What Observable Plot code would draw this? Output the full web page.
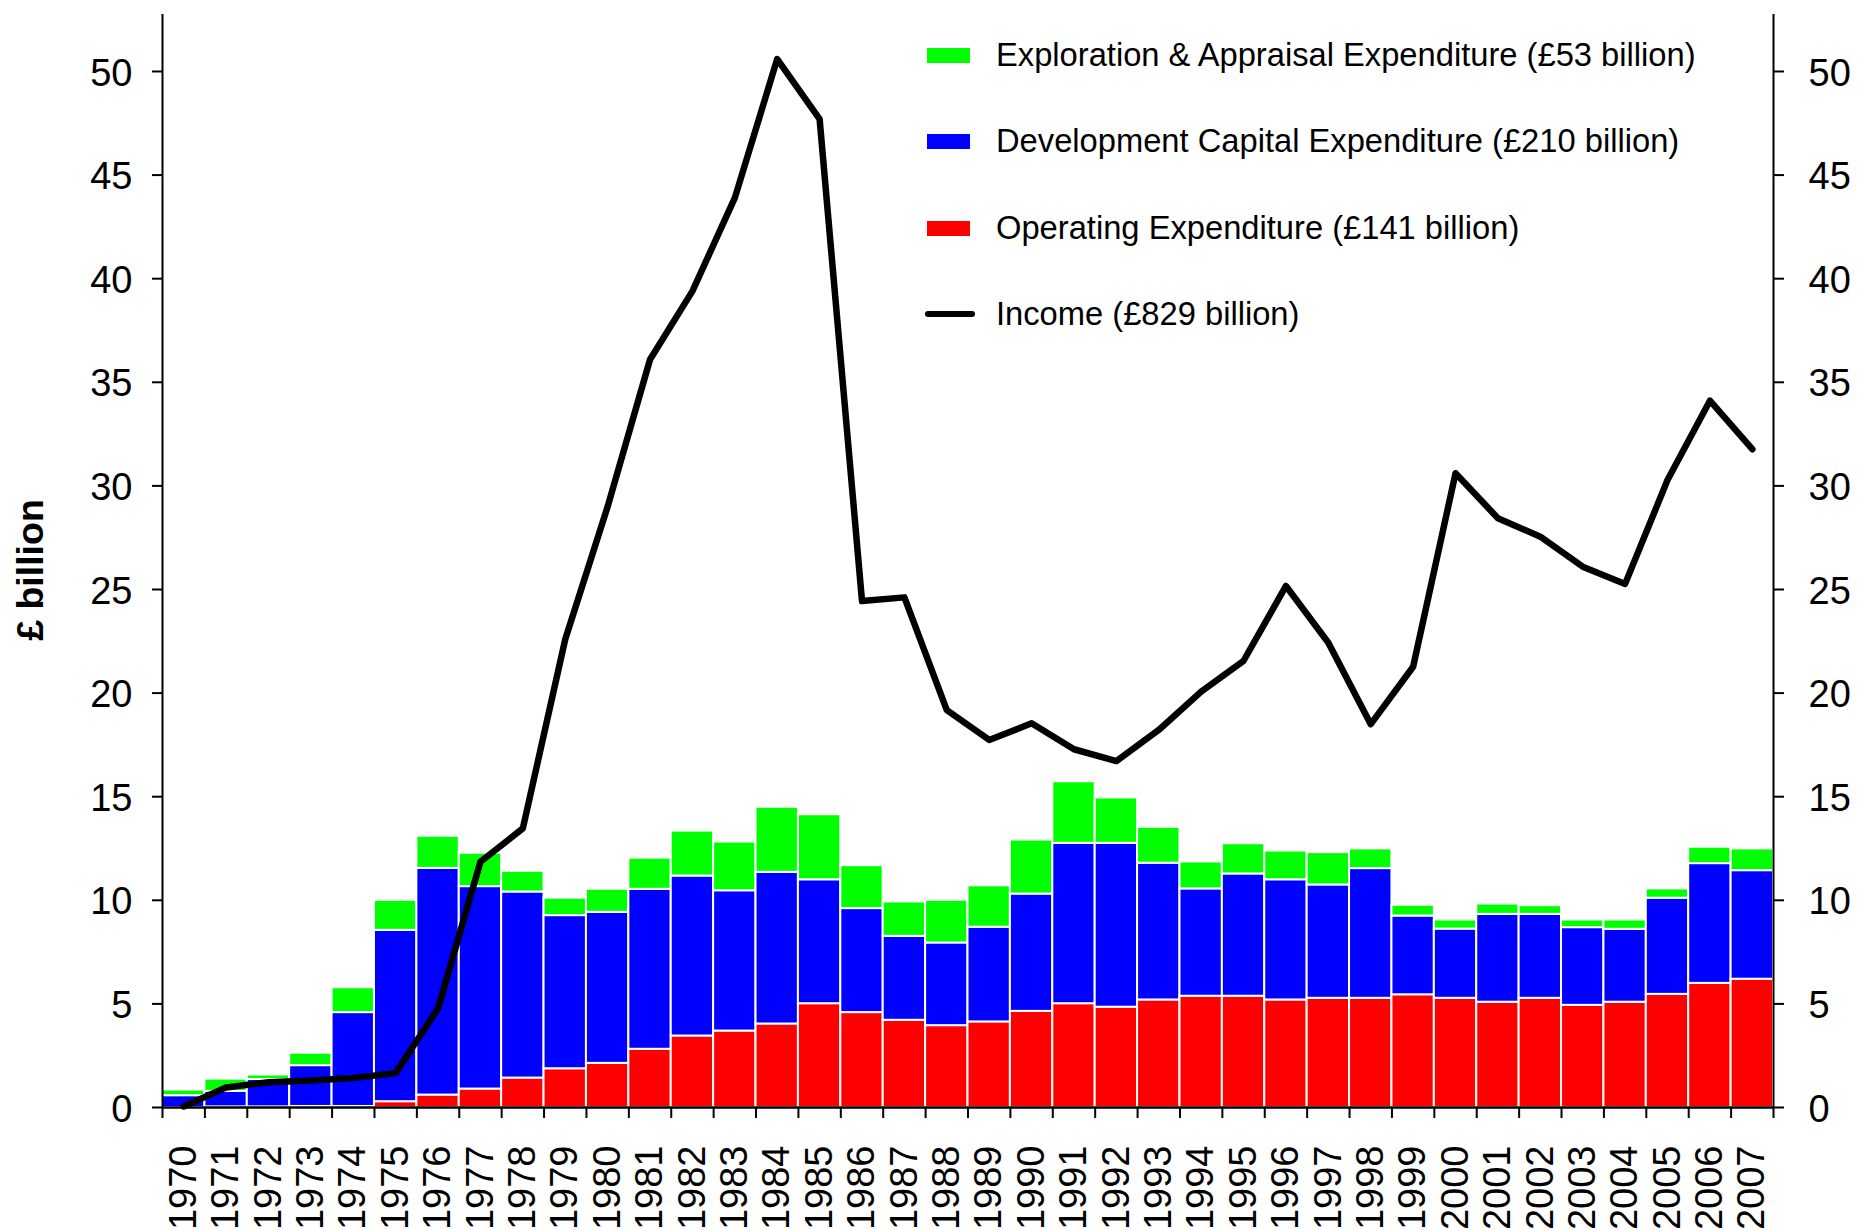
<!DOCTYPE html>
<html>
<head>
<meta charset="utf-8">
<script src="https://cdn.jsdelivr.net/npm/d3@7"></script>
<script src="https://cdn.jsdelivr.net/npm/@observablehq/plot@0.6"></script>
<style>
  body { margin: 0; background: #fff; }
  #wrap { position: relative; width: 1860px; height: 1230px; font-family: "Liberation Sans", Arial, sans-serif; }
  #wrap svg { position: absolute; left: 0; top: 0; }
  .leg { position: absolute; left: 0; height: 32px; width: 900px; }
  .sw { position: absolute; left: 927px; top: 9px; width: 43px; height: 15px; }
  .ln { position: absolute; left: 925px; top: 13px; width: 50px; height: 6px; background: #000; border-radius: 3px; }
  .lt { position: absolute; left: 996px; top: 0; font-size: 32.7px; line-height: 32px; white-space: nowrap; color: #000; }
</style>
</head>
<body>
<div id="wrap"></div>
<script>
const years = [1970,1971,1972,1973,1974,1975,1976,1977,1978,1979,1980,1981,1982,1983,1984,1985,1986,1987,1988,1989,
               1990,1991,1992,1993,1994,1995,1996,1997,1998,1999,2000,2001,2002,2003,2004,2005,2006,2007];

// Operating expenditure (£ billion)
const operating = [0,0.03,0.03,0.05,0.05,0.28,0.60,0.89,1.42,1.87,2.13,2.81,3.45,3.69,4.03,5.01,4.58,4.21,3.95,4.13,
                   4.64,5.01,4.84,5.19,5.37,5.37,5.19,5.27,5.27,5.44,5.27,5.08,5.27,4.93,5.08,5.46,5.99,6.19];
// Development capital expenditure (£ billion)
const development = [0.57,0.75,1.32,1.97,4.53,8.27,10.94,9.77,8.98,7.39,7.29,7.72,7.72,6.77,7.32,5.98,5.02,4.05,3.99,4.57,
                     5.66,7.74,7.91,6.60,5.18,5.90,5.80,5.47,6.26,3.80,3.34,4.24,4.05,3.75,3.52,4.64,5.78,5.24];
// Exploration & appraisal expenditure (£ billion)
const exploration = [0.27,0.59,0.22,0.60,1.20,1.45,1.55,1.61,1.00,0.84,1.11,1.50,2.17,2.35,3.14,3.14,2.07,1.66,2.06,2.00,
                     2.61,2.97,2.19,1.73,1.30,1.46,1.39,1.56,0.95,0.52,0.44,0.50,0.42,0.37,0.45,0.45,0.79,1.05];
// Income (£ billion)
const income = [0.05,0.97,1.22,1.30,1.42,1.66,4.79,11.86,13.47,22.6,29.0,36.1,39.4,43.9,50.6,47.7,24.44,24.62,19.18,17.74,
                18.54,17.29,16.72,18.22,20.07,21.56,25.17,22.43,18.5,21.27,30.61,28.44,27.55,26.1,25.27,30.28,34.11,31.77];

const seriesNames = ["Operating Expenditure", "Development Capital Expenditure", "Exploration & Appraisal Expenditure"];
const seriesColors = ["#ff0000", "#0000ff", "#00ff00"];
const legendLabels = [
  "Exploration & Appraisal Expenditure (£53 billion)",
  "Development Capital Expenditure (£210 billion)",
  "Operating Expenditure (£141 billion)",
  "Income (£829 billion)"
];
const legendColors = ["#00ff00", "#0000ff", "#ff0000", "#000000"];
const yTicks = [0,5,10,15,20,25,30,35,40,45,50];
const yTitle = "£ billion";

const seriesValues = [operating, development, exploration];
const rows = [];
years.forEach((yr, i) => {
  seriesNames.forEach((s, k) => rows.push({x1: yr - 0.5, x2: yr + 0.5, series: s, value: seriesValues[k][i]}));
});
const incomeRows = years.map((yr, i) => ({year: yr, income: income[i]}));
const boundaries = years.map(y => y - 0.5).concat([years[years.length - 1] + 0.5]);
const blank = () => "";

const chart = Plot.plot({
  width: 1860,
  height: 1230,
  marginLeft: 162,
  marginRight: 87,
  marginTop: 14,
  marginBottom: 123,
  style: {fontFamily: "'Liberation Sans', Arial, sans-serif", fontSize: "38px", color: "#000", background: "#fff"},
  x: {type: "linear", domain: [boundaries[0], boundaries[boundaries.length - 1]]},
  y: {domain: [0, 52.75]},
  color: {domain: seriesNames, range: seriesColors},
  marks: [
    Plot.rectY(rows, {x1: "x1", x2: "x2", y: "value", fill: "series", order: seriesNames, stroke: "white", strokeWidth: 2}),
    Plot.ruleX([boundaries[0]], {stroke: "#000", strokeWidth: 2}),
    Plot.ruleX([boundaries[boundaries.length - 1]], {stroke: "#000", strokeWidth: 2}),
    Plot.ruleY([0], {stroke: "#000", strokeWidth: 2.5}),
    Plot.line(incomeRows, {x: "year", y: "income", stroke: "#000", strokeWidth: 6.5, strokeLinejoin: "round", strokeLinecap: "round"}),
    // y tick marks (both sides)
    Plot.axisY({anchor: "left", ticks: yTicks, tickSize: 10, tickFormat: blank, strokeWidth: 2, label: null}),
    Plot.axisY({anchor: "right", ticks: yTicks, tickSize: 10, tickFormat: blank, strokeWidth: 2, label: null}),
    // y tick labels (both sides)
    Plot.axisY({anchor: "left", ticks: yTicks, tickSize: 0, tickPadding: 30, fontSize: 38, label: null, dy: 2}),
    Plot.axisY({anchor: "right", ticks: yTicks, tickSize: 0, tickPadding: 35, fontSize: 38, label: null, dy: 2}),
    // x tick marks at year boundaries, labels at year centres
    Plot.axisX({ticks: boundaries, tickSize: 11, tickFormat: blank, strokeWidth: 2, label: null}),
    Plot.axisX({ticks: years, tickSize: 0, tickRotate: -90, tickPadding: 38, tickFormat: d => String(d), fontSize: 38, label: null}),
    Plot.text([yTitle], {frameAnchor: "left", rotate: -90, dx: -146, dy: 9, lineAnchor: "top", textAnchor: "middle",
                         fontWeight: "bold", fontSize: 37.5, fill: "#000"})
  ]
});

const wrap = document.getElementById("wrap");
wrap.appendChild(chart);

// Legend overlaid at the top right of the plot area
const legendCenters = [55, 141, 228, 314];
legendLabels.forEach((lab, i) => {
  const item = document.createElement("div");
  item.className = "leg";
  item.style.top = (legendCenters[i] - 16) + "px";
  const sw = document.createElement("div");
  if (i < 3) { sw.className = "sw"; sw.style.background = legendColors[i]; }
  else { sw.className = "ln"; }
  const t = document.createElement("div");
  t.className = "lt";
  t.textContent = lab;
  item.appendChild(sw);
  item.appendChild(t);
  wrap.appendChild(item);
});
</script>
</body>
</html>
